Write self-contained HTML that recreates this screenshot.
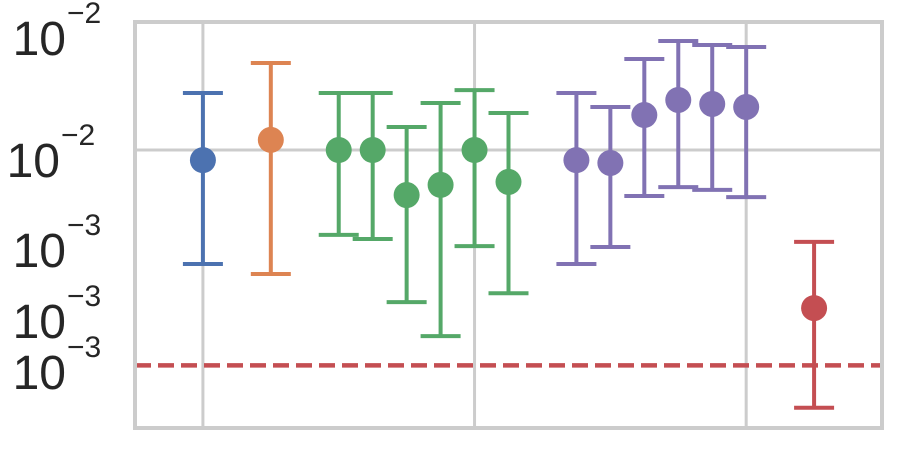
<!DOCTYPE html>
<html><head><meta charset="utf-8"><style>
html,body{margin:0;padding:0;background:#fff;width:900px;height:450px;overflow:hidden}
svg{display:block;font-family:"Liberation Sans",sans-serif}
</style></head><body>
<svg id="chart" width="900" height="450"></svg>
<script>
const xs=[0,2,4,5,6,7,8,9,11,12,13,14,15,16,18];
const vals=[0.00944,0.01059,0.0100,0.0100,0.00774,0.0082,0.0100,0.00834,0.00944,0.00929,0.0122,0.01329,0.01299,0.01277,0.00407];
const lows=[0.00523,0.00494,0.00617,0.00603,0.00421,0.00347,0.00579,0.00443,0.00523,0.00576,0.0077,0.0081,0.00797,0.00765,0.00231];
const highs=[0.01383,0.0164,0.01383,0.01383,0.0114,0.01306,0.01406,0.01234,0.01383,0.01277,0.01678,0.01858,0.01817,0.01796,0.00593];
const groups=[0,1,2,2,2,2,2,2,3,3,3,3,3,3,4];
const refLine=0.00294;
const yTickVals=[0.02,0.01,0.006,0.004,0.003];
const yTickLabels=[["2 × 10","−2"],["10","−2"],["6 × 10","−3"],["4 × 10","−3"],["3 × 10","−3"]];
const xGrid=[0,8,16];
const colors=["#4c72b0","#dd8452","#55a868","#8172b3","#c44e52"];
const L=135,R=882,T=22,B=428;
const xMin=-2,xMax=20;
const yLogMax=-2+128/405,yLogMin=-2-278/405;
const X=v=>L+(v-xMin)/(xMax-xMin)*(R-L);
const Y=v=>T+(yLogMax-Math.log10(v))/(yLogMax-yLogMin)*(B-T);
const svg=document.getElementById('chart');
const NS="http://www.w3.org/2000/svg";
function mk(tag,attrs,parent){const e=document.createElementNS(NS,tag);for(const k in attrs)e.setAttribute(k,attrs[k]);(parent||svg).appendChild(e);return e;}
xGrid.forEach(g=>{const l=mk('line',{x1:X(g),x2:X(g),y1:T,y2:B,stroke:'#cccccc','stroke-width':3});

});
{const l=mk('line',{x1:L,x2:R,y1:Y(0.01),y2:Y(0.01),stroke:'#cccccc','stroke-width':3});

}
yTickVals.forEach((v,i)=>{
const xe=(yTickLabels[i][0]==="10")?60:66;
const t=mk('text',{x:xe,y:Y(v)+27,'text-anchor':'end','font-size':48,fill:'#262626'});


t.textContent=yTickLabels[i][0];
const s=mk('text',{x:xe+1,y:Y(v)-5,'font-size':30,fill:'#262626'});


s.textContent=yTickLabels[i][1];});
{const l=mk('line',{x1:L,x2:R,y1:Y(refLine),y2:Y(refLine),stroke:'#c44e52','stroke-width':4.5,'stroke-dasharray':'16,7'});

}
xs.forEach((x,i)=>{const g=mk('g',{stroke:colors[groups[i]],'stroke-width':4,fill:colors[groups[i]]});


const cx=X(x);
mk('line',{x1:cx,x2:cx,y1:Y(highs[i]),y2:Y(lows[i])},g);
mk('line',{x1:cx-20,x2:cx+20,y1:Y(highs[i]),y2:Y(highs[i])},g);
mk('line',{x1:cx-20,x2:cx+20,y1:Y(lows[i]),y2:Y(lows[i])},g);
mk('circle',{cx:cx,cy:Y(vals[i]),r:13,stroke:'none'},g);});
{const r=mk('rect',{x:L,y:T,width:R-L,height:B-T,fill:'none',stroke:'#cccccc','stroke-width':4});

}
</script>
</body></html>
